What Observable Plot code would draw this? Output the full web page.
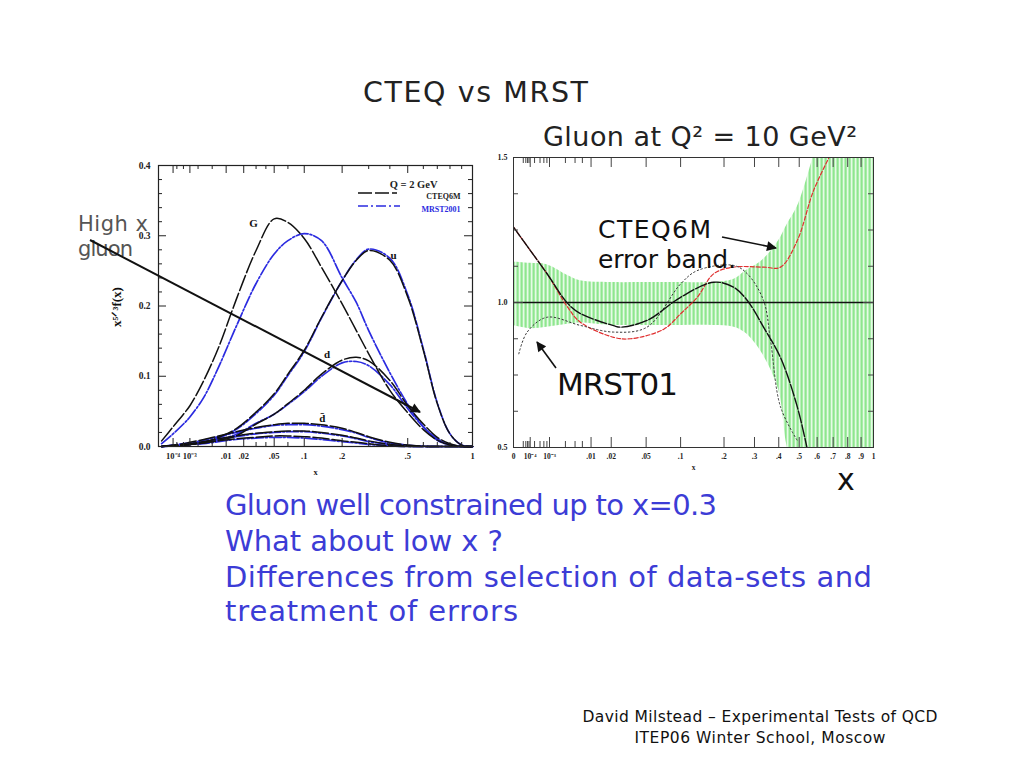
<!DOCTYPE html>
<html><head><meta charset="utf-8">
<script src="https://cdn.jsdelivr.net/npm/d3@7"></script>
<script src="https://cdn.jsdelivr.net/npm/@observablehq/plot@0.6"></script>
<style>
body{margin:0;background:#fff;}
#page{position:relative;width:1024px;height:768px;overflow:hidden;background:#fff;}
#page > svg{position:absolute;top:0;}
</style></head><body><div id="page"></div>
<script>
// ---------- Left chart: x^{5/3} f(x) at Q = 2 GeV ----------
const xGrid   = [0.000001,0.0001,0.0005,0.001,0.003,0.007,0.015,0.03,0.05,0.07,0.1,0.14,0.2,0.25,0.3,0.4,0.5,0.6,0.7,0.8,0.9,1.0];
const cteqG   = [0.008,0.028,0.046,0.058,0.094,0.141,0.208,0.279,0.324,0.319,0.296,0.255,0.203,0.165,0.132,0.080,0.048,0.024,0.009,0.002,0,0];
const mrstG   = [0.004,0.018,0.032,0.042,0.070,0.113,0.170,0.232,0.274,0.293,0.303,0.293,0.240,0.205,0.165,0.105,0.060,0.028,0.009,0.002,0,0];
const cteqU   = [0,0.001,0.002,0.003,0.006,0.013,0.025,0.049,0.075,0.103,0.137,0.184,0.236,0.265,0.279,0.265,0.213,0.137,0.061,0.018,0.002,0];
const mrstU   = [0,0.001,0.002,0.003,0.006,0.012,0.024,0.047,0.073,0.101,0.135,0.183,0.236,0.266,0.281,0.268,0.216,0.139,0.062,0.018,0.002,0];
const cteqD   = [0,0.001,0.002,0.003,0.005,0.009,0.015,0.032,0.046,0.061,0.080,0.103,0.123,0.127,0.122,0.094,0.058,0.032,0.013,0.004,0,0];
const mrstD   = [0,0.001,0.002,0.003,0.006,0.010,0.017,0.033,0.046,0.060,0.078,0.100,0.119,0.121,0.115,0.088,0.054,0.028,0.011,0.003,0,0];
const cteqDbar= [0,0.002,0.004,0.006,0.010,0.015,0.021,0.027,0.031,0.033,0.033,0.031,0.026,0.020,0.014,0.006,0.002,0.0005,0,0,0,0];
const mrstDbar= [0,0.002,0.004,0.005,0.009,0.014,0.020,0.026,0.030,0.031,0.031,0.029,0.024,0.019,0.013,0.005,0.002,0.0005,0,0,0,0];
const cteqUbar= [0,0.0015,0.003,0.004,0.007,0.011,0.015,0.019,0.021,0.022,0.022,0.020,0.016,0.012,0.008,0.003,0.001,0,0,0,0,0];
const mrstUbar= [0,0.0015,0.003,0.004,0.007,0.010,0.014,0.018,0.020,0.021,0.021,0.019,0.015,0.011,0.007,0.003,0.001,0,0,0,0,0];
const cteqS   = [0,0.001,0.002,0.003,0.005,0.008,0.011,0.013,0.015,0.015,0.014,0.012,0.008,0.006,0.004,0.001,0,0,0,0,0,0];
const mrstS   = [0,0.001,0.002,0.003,0.004,0.007,0.010,0.012,0.013,0.013,0.012,0.010,0.007,0.005,0.003,0.001,0,0,0,0,0,0];
const leftXTicks  = [0.0001,0.001,0.01,0.02,0.05,0.1,0.2,0.5,1];
const leftXLabels = ["10\u207B\u2074","10\u207B\u00B3",".01",".02",".05",".1",".2",".5","1"];
const leftXMinor  = [0.0002,0.0005,0.002,0.005,0.03,0.04,0.07,0.3,0.4,0.6,0.7,0.8,0.9];
const leftYTicks  = [0,0.1,0.2,0.3,0.4];
const leftYMinor  = [0.02,0.04,0.06,0.08,0.12,0.14,0.16,0.18,0.22,0.24,0.26,0.28,0.32,0.34,0.36,0.38];
const curveLabelText = ["G","u","d","d\u0304"];
const curveLabelX    = [0.0277,0.42,0.155,0.142];
const curveLabelY    = [0.318,0.272,0.131,0.040];

// ---------- Right chart: gluon ratio at Q^2 = 10 GeV^2 ----------
const bandX  = [0,0.0001,0.0008,0.0034,0.0064,0.02,0.05,0.1,0.17,0.23,0.27,0.33,0.4,0.44,0.49,0.55,0.58,0.7,1.0];
const bandHi = [1.14,1.135,1.13,1.093,1.075,1.069,1.069,1.069,1.069,1.08,1.11,1.145,1.214,1.27,1.33,1.445,1.51,1.8,2.0];
const bandLo = [0.921,0.91,0.915,0.925,0.929,0.921,0.921,0.921,0.921,0.915,0.893,0.824,0.697,0.5,0.4,0.35,0.3,0.3,0.3];
const solidX = [0,0.0001,0.0008,0.0034,0.0064,0.0215,0.0263,0.051,0.1,0.172,0.228,0.274,0.335,0.408,0.49,0.545];
const solidY = [1.26,1.18,1.10,0.997,0.962,0.92,0.915,0.938,1.018,1.07,1.053,1.007,0.915,0.81,0.64,0.49];
const redX   = [0,0.0001,0.0008,0.0034,0.0064,0.0215,0.0343,0.0728,0.1,0.133,0.172,0.228,0.335,0.408,0.49,0.579,0.683];
const redY   = [1.26,1.18,1.10,0.984,0.932,0.88,0.875,0.908,0.961,1.018,1.099,1.122,1.122,1.122,1.214,1.386,1.51];
const dotX   = [0.0000032,0.000055,0.0008,0.0064,0.0215,0.051,0.1,0.133,0.228,0.274,0.335,0.364,0.408,0.49];
const dotY   = [0.823,0.898,0.949,0.921,0.898,0.915,1.064,1.11,1.128,1.099,1.007,0.869,0.64,0.524];
const rightXTicks  = [0,0.0001,0.001,0.01,0.02,0.05,0.1,0.2,0.3,0.4,0.5,0.6,0.7,0.8,0.9,1];
const rightXLabels = ["0","10\u207B\u2074","10\u207B\u00B3",".01",".02",".05",".1",".2",".3",".4",".5",".6",".7",".8",".9","1"];
const rightXMinor  = [0.00002,0.00004,0.00006,0.00008,0.0002,0.0004,0.0006,0.0008,0.003,0.005,0.007];
const rightYTicks  = [0.5,1.0,1.5];
const rightYMinor  = [0.625,0.75,0.875,1.125,1.25,1.375];

// ---------- Slide text ----------
const slideTitle = "CTEQ vs MRST";
const rightTitle = "Gluon at Q\u00B2 = 10 GeV\u00B2";
const bullets = ["Gluon well constrained up to x=0.3","What about low x ?","Differences from selection of data-sets and","treatment of errors"];
const footer = ["David Milstead \u2013 Experimental Tests of QCD","ITEP06 Winter School, Moscow"];

// ---------- build tidy tables ----------
const leftSeries = [
  ["CTEQ6M","G",cteqG],["MRST2001","G",mrstG],["CTEQ6M","u",cteqU],["MRST2001","u",mrstU],
  ["CTEQ6M","d",cteqD],["MRST2001","d",mrstD],["CTEQ6M","dbar",cteqDbar],["MRST2001","dbar",mrstDbar],
  ["CTEQ6M","ubar",cteqUbar],["MRST2001","ubar",mrstUbar],["CTEQ6M","s",cteqS],["MRST2001","s",mrstS]
];
const leftRows = leftSeries.flatMap(([set,flav,vals]) => vals.map((v,i)=>({set, key:set+flav, x:xGrid[i], y:v})));
const curveLabels = curveLabelText.map((t,i)=>({t, x:curveLabelX[i], y:curveLabelY[i]}));
const bandRows = bandX.map((x,i)=>({x, hi:bandHi[i], lo:bandLo[i]}));
const solidRows = solidX.map((x,i)=>({x,y:solidY[i]}));
const redRows = redX.map((x,i)=>({x,y:redY[i]}));
const dotRows = dotX.map((x,i)=>({x,y:dotY[i]}));

const tickStyle = {background:"transparent", fontFamily:"'Liberation Serif',serif", fontWeight:"bold", fontSize:"9px", color:"#222", overflow:"visible"};
const BLUE = "#2b2be0";

// frame geometry (pixels)
const LW = 314, LH = 281, RW = 360, RH = 290;
const ticksFor = (xs, ys, W, H, big, stroke) => [
  Plot.ruleX(xs, {x:d=>d, insetTop:H-big, stroke, strokeWidth:1}),
  Plot.ruleX(xs, {x:d=>d, insetBottom:H-big, stroke, strokeWidth:1}),
  Plot.ruleY(ys, {y:d=>d, insetRight:W-big, stroke, strokeWidth:1}),
  Plot.ruleY(ys, {y:d=>d, insetLeft:W-big, stroke, strokeWidth:1})
];

const leftPlot = Plot.plot({
  width: 480, height: 480,
  marginLeft: 158, marginRight: 8, marginTop: 165, marginBottom: 34,
  x: {type:"pow", exponent:1/3, domain:[0,1]},
  y: {domain:[0,0.4]},
  style: tickStyle,
  marks: [
    Plot.line(leftRows.filter(d=>d.set==="MRST2001"), {x:"x", y:"y", z:"key", stroke:BLUE, strokeWidth:1.7, strokeDasharray:"12,2,2,2", curve:"catmull-rom"}),
    Plot.line(leftRows.filter(d=>d.set==="CTEQ6M"), {x:"x", y:"y", z:"key", stroke:"#111", strokeWidth:1.5, strokeDasharray:"16,3", curve:"catmull-rom"}),
    Plot.text(curveLabels, {x:"x", y:"y", text:"t", fontSize:11, fontWeight:"bold", fill:"#111"}),
    Plot.text(["Q = 2 GeV"], {frameAnchor:"top-right", dx:-35, dy:15, textAnchor:"end", fontSize:10.5}),
    Plot.text(["CTEQ6M"], {frameAnchor:"top-right", dx:-12, dy:28, textAnchor:"end", fontSize:8}),
    Plot.text(["MRST2001"], {frameAnchor:"top-right", dx:-12, dy:41, textAnchor:"end", fontSize:8, fill:BLUE}),
    ...ticksFor(leftXTicks, leftYTicks, LW, LH, 8, "#222"),
    Plot.ruleX(leftXMinor, {x:d=>d, insetTop:LH-4, stroke:"#222"}),
    Plot.ruleX(leftXMinor, {x:d=>d, insetBottom:LH-4, stroke:"#222"}),
    Plot.ruleY(leftYMinor, {y:d=>d, insetRight:LW-4, stroke:"#222"}),
    Plot.ruleY(leftYMinor, {y:d=>d, insetLeft:LW-4, stroke:"#222"}),
    Plot.frame({stroke:"#222", strokeWidth:1.2}),
    Plot.axisY(leftYTicks, {anchor:"left", tickSize:0, tickPadding:8, tickFormat:d=>d.toFixed(1), label:null, fontSize:9.5}),
    Plot.axisX(leftXTicks, {anchor:"bottom", tickSize:0, tickPadding:6, tickFormat:(d,i)=>leftXLabels[i], label:"x", labelAnchor:"center", labelArrow:"none", labelOffset:28, fontSize:8.5})
  ]
});

const rightPlot = Plot.plot({
  width: 413, height: 480,
  marginLeft: 33, marginRight: 20, marginTop: 157, marginBottom: 33,
  x: {type:"pow", exponent:1/3, domain:[0,1]},
  y: {domain:[0.5,1.5]},
  style: tickStyle,
  marks: [
    Plot.areaY(bandRows, {x:"x", y1:"lo", y2:"hi", fill:"url(#hatch)", curve:"catmull-rom", clip:true}),
    Plot.ruleY([1], {stroke:"#111", strokeWidth:1.6}),
    Plot.line(redRows, {x:"x", y:"y", stroke:"#e03030", strokeWidth:1.2, strokeDasharray:"4,2", curve:"catmull-rom", clip:true}),
    Plot.line(dotRows, {x:"x", y:"y", stroke:"#333", strokeWidth:1, strokeDasharray:"1.5,2.5", curve:"catmull-rom", clip:true}),
    Plot.line(solidRows, {x:"x", y:"y", stroke:"#111", strokeWidth:1.4, strokeDasharray:"12,2", curve:"catmull-rom", clip:true}),
    ...ticksFor(rightXTicks, rightYTicks, RW, RH, 10, "#444"),
    Plot.ruleX(rightXMinor, {x:d=>d, insetTop:RH-6, stroke:"#444"}),
    Plot.ruleX(rightXMinor, {x:d=>d, insetBottom:RH-6, stroke:"#444"}),
    Plot.ruleY(rightYMinor, {y:d=>d, insetRight:RW-5, stroke:"#444"}),
    Plot.ruleY(rightYMinor, {y:d=>d, insetLeft:RW-5, stroke:"#444"}),
    Plot.frame({stroke:"#333", strokeWidth:1}),
    Plot.axisY(rightYTicks, {anchor:"left", tickSize:0, tickPadding:6, tickFormat:d=>d.toFixed(1), label:null, fontSize:8}),
    Plot.axisX(rightXTicks, {anchor:"bottom", tickSize:0, tickPadding:6, tickFormat:(d,i)=>rightXLabels[i], label:"x", labelAnchor:"center", labelArrow:"none", labelOffset:22, fontSize:7.5})
  ]
});
// hatch pattern for the error band
const defs = d3.select(rightPlot).insert("defs", ":first-child");
const pat = defs.append("pattern").attr("id","hatch").attr("patternUnits","userSpaceOnUse").attr("width",4).attr("height",10);
pat.append("rect").attr("width",4).attr("height",10).attr("fill","#e6fbe6");
pat.append("rect").attr("x",0.5).attr("width",2.2).attr("height",10).attr("fill","#8ee68e");

const page = document.getElementById("page");
leftPlot.style.left = "0px"; page.appendChild(leftPlot);
rightPlot.style.left = "480px"; page.appendChild(rightPlot);

// ---------- annotation overlay ----------
const ov = d3.select(page).append("svg").attr("width",1024).attr("height",768).style("left","0px").style("pointer-events","none");
const od = ov.append("defs");
od.append("marker").attr("id","ah").attr("viewBox","0 0 10 10").attr("refX",9).attr("refY",5)
  .attr("markerUnits","userSpaceOnUse").attr("markerWidth",12).attr("markerHeight",10).attr("orient","auto")
  .append("path").attr("d","M0,0L10,5L0,10z").attr("fill","#111");
const T = (txt, x, y, size, opts={}) => {
  const t = ov.append("text").attr("x",x).attr("y",y).attr("font-size",size)
    .attr("font-family", opts.family || "'DejaVu Sans',sans-serif").attr("fill", opts.fill || "#111").text(txt);
  if (opts.len) t.attr("textLength", opts.len).attr("lengthAdjust","spacing");
  if (opts.anchor) t.attr("text-anchor", opts.anchor);
  if (opts.weight) t.attr("font-weight", opts.weight);
  if (opts.rotate) t.attr("transform", `rotate(${opts.rotate},${x},${y})`);
  return t;
};
T(slideTitle, 363, 102, 28.5, {len:225, fill:"#222"});
T(rightTitle, 543, 146, 27, {len:314, fill:"#222"});
T("High x", 78, 231, 21, {fill:"#555", len:70});
T("gluon", 78, 256, 21, {fill:"#555", len:55});
T("x\u2075\u141F\u00B3f(x)", 121, 307, 13, {family:"'Liberation Serif',serif", weight:"bold", anchor:"middle", rotate:-90});
T("CTEQ6M", 598, 238, 25, {len:113});
T("error band.", 598, 268, 25, {len:138});
T("MRST01", 557, 395, 31, {len:121});
T("x", 837, 490, 30);
const by = [515, 551, 587, 621];
const bl = [492, 278, 647, 293];
bullets.forEach((b,i)=>T(b, 225, by[i], 29, {fill:"#3c3cd6", len:bl[i]}));
T(footer[0], 760, 722, 15.5, {anchor:"middle", len:355});
T(footer[1], 760, 743, 15.5, {anchor:"middle", len:251});
// arrows
const A = (x1,y1,x2,y2,w) => ov.append("line").attr("x1",x1).attr("y1",y1).attr("x2",x2).attr("y2",y2)
  .attr("stroke","#111").attr("stroke-width",w).attr("marker-end","url(#ah)");
A(90,240,420,412,2);
A(722,237,776,248,1.6);
A(556,368,537,342,1.6);
// legend swatches (left chart)
ov.append("line").attr("x1",358).attr("x2",397).attr("y1",193).attr("y2",193).attr("stroke","#111").attr("stroke-width",1.4).attr("stroke-dasharray","14,3");
ov.append("line").attr("x1",358).attr("x2",400).attr("y1",206).attr("y2",206).attr("stroke",BLUE).attr("stroke-width",1.6).attr("stroke-dasharray","10,3,2,3");
</script></body></html>
